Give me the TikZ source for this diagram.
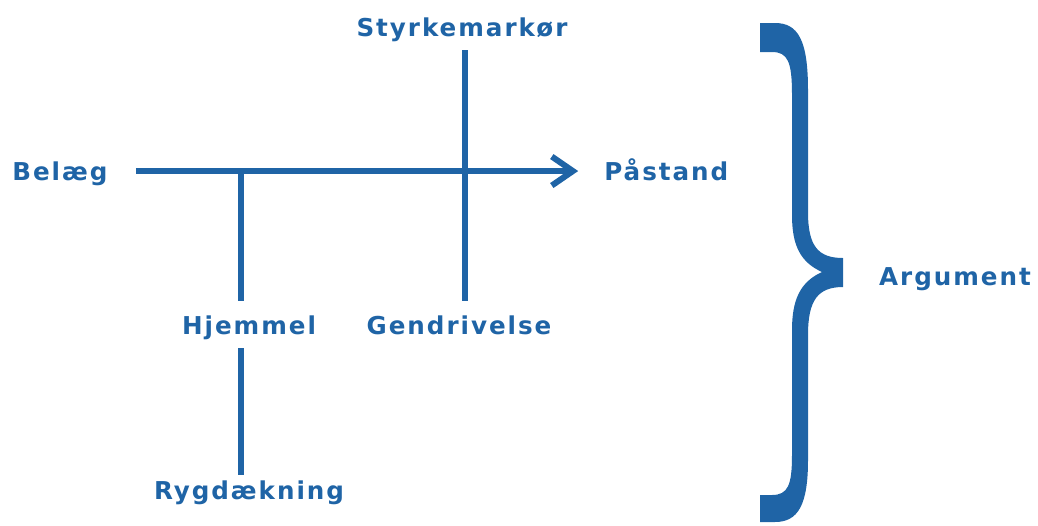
\documentclass[tikz,border=0pt]{standalone}
\usepackage{fontspec}
\setmainfont{DejaVu Sans}
\newfontfamily\wordfont[LetterSpace=8,BoldFont={DejaVu Sans Bold}]{DejaVu Sans}
\usetikzlibrary{arrows.meta}
\definecolor{argblue}{HTML}{1F64A6}

\begin{document}
\begin{tikzpicture}[x=0.02cm,y=-0.02cm]
% Diagram style
\tikzset{
    word/.style={text=argblue, font=\wordfont\bfseries\fontsize{14}{16}\selectfont,
        inner sep=0pt, text height=10.2pt, text depth=0pt},
    link/.style={draw=argblue, line width=3.4pt}
}
\useasboundingbox (0,0) rectangle (1038,525);

% Labels
\node[word,anchor=base west] (belaeg) at (12,180){Belæg};
\node[word,anchor=base west] (paastand) at (604,180){Påstand};
\node[word,anchor=base] (styrke) at (462,36){Styrkemarkør};
\node[word,anchor=base] (hjemmel) at (249,334){Hjemmel};
\node[word,anchor=base] (gendriv) at (459,334){Gendrivelse};
\node[word,anchor=base] (rygd) at (249,499){Rygdækning};
\node[word,anchor=base] (argument) at (955,285){Argument};

% Junctions on the main line
\coordinate (hj) at (241,0);
\coordinate (st) at (465,0);

% Connection
\draw[link,-{Straight Barb[length=12pt,width=16.5pt]},shorten <=15.9pt,shorten >=14.7pt]
    (belaeg.east) -- (paastand.west);
\draw[link,shorten >=8.5pt] (hj |- belaeg.east) -- (hj |- hjemmel.north);
\draw[link,shorten <=8pt,shorten >=3.4pt] (hj |- hjemmel.south) -- (hj |- rygd.north);
\draw[link,shorten <=8pt,shorten >=8.5pt] (st |- styrke.south) -- (st |- gendriv.north);

% Brace
\fill[argblue] (760,23) -- (775,23) .. controls (798,23) and (808,40) .. (808,90)
    -- (808,212) .. controls (808,246) and (818,258) .. (843,258)
    -- (843,287) .. controls (818,287) and (808,300) .. (808,335)
    -- (808,460) .. controls (808,505) and (798,522) .. (775,522)
    -- (760,522) -- (760,495) -- (772,495) .. controls (788,495) and (792,485) .. (792,455)
    -- (792,330) .. controls (792,300) and (800,282) .. (822,272)
    .. controls (800,262) and (792,245) .. (792,215)
    -- (792,95) .. controls (792,62) and (788,52) .. (772,52) -- (760,52) -- cycle;
\end{tikzpicture}
\end{document}
